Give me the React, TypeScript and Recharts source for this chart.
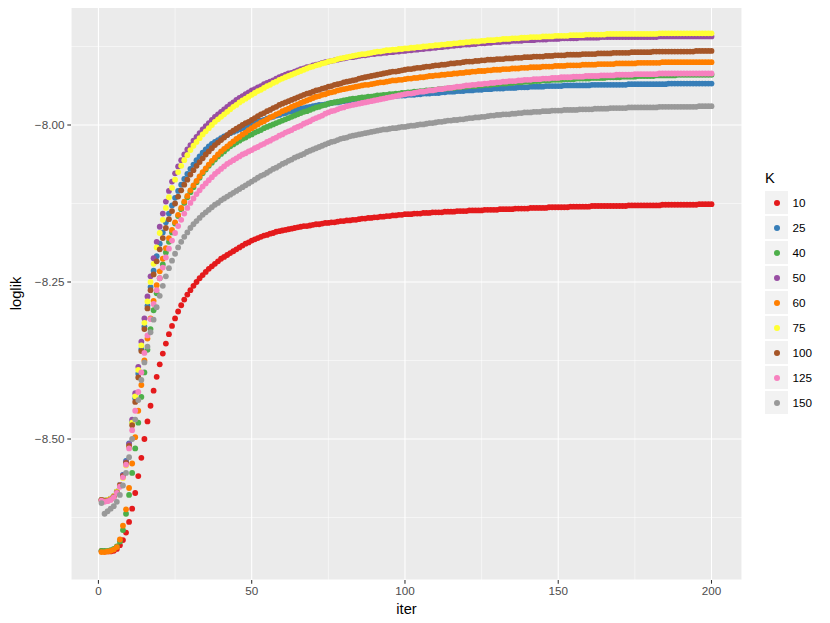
import { CartesianGrid, Label, Scatter, ScatterChart, XAxis, YAxis } from "recharts";

const FONT = '"Liberation Sans", Arial, Helvetica, sans-serif';

const K_LEVELS = ["10", "25", "40", "50", "60", "75", "100", "125", "150"];
const K_COLORS = ["#E41A1C", "#377EB8", "#4DAF4A", "#984EA3", "#FF7F00", "#FFFF33", "#A65628", "#F781BF", "#999999"];

const X_TICKS = [0, 50, 100, 150, 200];
const X_MINOR = [25, 75, 125, 175];
const Y_TICKS = [-8.5, -8.25, -8.0];
const Y_MINOR = [-8.625, -8.375, -8.125, -7.875];

// loglik per iteration (iter 1..200), one list per K
const loglikK10 = [
  -8.678, -8.679, -8.679, -8.679, -8.678, -8.675, -8.669, -8.661, -8.649, -8.632,
  -8.611, -8.586, -8.559, -8.530, -8.500, -8.472, -8.447, -8.423, -8.401, -8.381,
  -8.364, -8.348, -8.333, -8.320, -8.308, -8.297, -8.287, -8.278, -8.270, -8.263,
  -8.256, -8.250, -8.244, -8.239, -8.234, -8.229, -8.225, -8.221, -8.217, -8.213,
  -8.210, -8.207, -8.204, -8.201, -8.198, -8.195, -8.192, -8.189, -8.187, -8.184,
  -8.182, -8.180, -8.178, -8.176, -8.175, -8.173, -8.172, -8.170, -8.169, -8.168,
  -8.167, -8.166, -8.165, -8.164, -8.163, -8.162, -8.161, -8.161, -8.160, -8.159,
  -8.158, -8.158, -8.157, -8.156, -8.156, -8.155, -8.155, -8.154, -8.153, -8.153,
  -8.152, -8.152, -8.151, -8.151, -8.150, -8.149, -8.149, -8.148, -8.148, -8.147,
  -8.147, -8.146, -8.146, -8.145, -8.145, -8.144, -8.144, -8.143, -8.143, -8.142,
  -8.142, -8.142, -8.141, -8.141, -8.141, -8.140, -8.140, -8.140, -8.139, -8.139,
  -8.139, -8.139, -8.138, -8.138, -8.138, -8.138, -8.137, -8.137, -8.137, -8.137,
  -8.136, -8.136, -8.136, -8.136, -8.136, -8.135, -8.135, -8.135, -8.135, -8.135,
  -8.134, -8.134, -8.134, -8.134, -8.134, -8.133, -8.133, -8.133, -8.133, -8.133,
  -8.132, -8.132, -8.132, -8.132, -8.132, -8.132, -8.131, -8.131, -8.131, -8.131,
  -8.131, -8.131, -8.131, -8.130, -8.130, -8.130, -8.130, -8.130, -8.130, -8.130,
  -8.129, -8.129, -8.129, -8.129, -8.129, -8.129, -8.129, -8.129, -8.129, -8.129,
  -8.129, -8.129, -8.128, -8.128, -8.128, -8.128, -8.128, -8.128, -8.128, -8.128,
  -8.128, -8.128, -8.128, -8.127, -8.127, -8.127, -8.127, -8.127, -8.127, -8.127,
  -8.127, -8.127, -8.127, -8.127, -8.127, -8.126, -8.126, -8.126, -8.126, -8.126,
];

const loglikK25 = [
  -8.597, -8.598, -8.597, -8.595, -8.591, -8.584, -8.573, -8.557, -8.535, -8.507,
  -8.473, -8.435, -8.396, -8.357, -8.321, -8.288, -8.258, -8.232, -8.209, -8.189,
  -8.171, -8.155, -8.141, -8.128, -8.116, -8.105, -8.095, -8.086, -8.078, -8.070,
  -8.063, -8.056, -8.050, -8.044, -8.039, -8.034, -8.030, -8.027, -8.024, -8.021,
  -8.018, -8.016, -8.013, -8.011, -8.009, -8.007, -8.005, -8.003, -8.001, -7.999,
  -7.997, -7.995, -7.993, -7.992, -7.990, -7.988, -7.987, -7.985, -7.984, -7.982,
  -7.981, -7.979, -7.978, -7.977, -7.975, -7.974, -7.973, -7.972, -7.971, -7.970,
  -7.969, -7.968, -7.968, -7.967, -7.966, -7.965, -7.964, -7.964, -7.963, -7.962,
  -7.962, -7.961, -7.960, -7.960, -7.959, -7.959, -7.958, -7.958, -7.957, -7.957,
  -7.956, -7.956, -7.955, -7.955, -7.955, -7.954, -7.954, -7.953, -7.953, -7.953,
  -7.952, -7.952, -7.952, -7.951, -7.951, -7.950, -7.950, -7.950, -7.949, -7.949,
  -7.949, -7.948, -7.948, -7.947, -7.947, -7.947, -7.946, -7.946, -7.946, -7.945,
  -7.945, -7.945, -7.944, -7.944, -7.944, -7.943, -7.943, -7.943, -7.942, -7.942,
  -7.942, -7.942, -7.941, -7.941, -7.941, -7.941, -7.940, -7.940, -7.940, -7.940,
  -7.939, -7.939, -7.939, -7.939, -7.939, -7.938, -7.938, -7.938, -7.938, -7.938,
  -7.938, -7.937, -7.937, -7.937, -7.937, -7.937, -7.937, -7.937, -7.937, -7.937,
  -7.936, -7.936, -7.936, -7.936, -7.936, -7.936, -7.936, -7.936, -7.936, -7.936,
  -7.936, -7.936, -7.935, -7.935, -7.935, -7.935, -7.935, -7.935, -7.935, -7.935,
  -7.935, -7.935, -7.935, -7.935, -7.935, -7.934, -7.934, -7.934, -7.934, -7.934,
  -7.934, -7.934, -7.934, -7.934, -7.934, -7.934, -7.934, -7.934, -7.934, -7.934,
];

const loglikK40 = [
  -8.678, -8.678, -8.678, -8.677, -8.675, -8.671, -8.663, -8.645, -8.619, -8.589,
  -8.554, -8.515, -8.474, -8.433, -8.394, -8.358, -8.325, -8.295, -8.268, -8.244,
  -8.222, -8.203, -8.186, -8.171, -8.157, -8.145, -8.134, -8.124, -8.115, -8.107,
  -8.099, -8.091, -8.084, -8.077, -8.071, -8.065, -8.060, -8.055, -8.050, -8.046,
  -8.042, -8.038, -8.034, -8.031, -8.028, -8.025, -8.022, -8.020, -8.017, -8.015,
  -8.012, -8.010, -8.008, -8.005, -8.003, -8.001, -7.999, -7.997, -7.995, -7.993,
  -7.991, -7.989, -7.987, -7.985, -7.983, -7.981, -7.979, -7.978, -7.976, -7.974,
  -7.972, -7.971, -7.969, -7.968, -7.966, -7.965, -7.964, -7.963, -7.962, -7.961,
  -7.960, -7.959, -7.958, -7.958, -7.957, -7.956, -7.956, -7.955, -7.955, -7.954,
  -7.953, -7.953, -7.952, -7.952, -7.951, -7.951, -7.950, -7.950, -7.949, -7.949,
  -7.948, -7.948, -7.947, -7.947, -7.946, -7.946, -7.945, -7.945, -7.944, -7.944,
  -7.943, -7.943, -7.942, -7.942, -7.941, -7.941, -7.940, -7.940, -7.939, -7.939,
  -7.938, -7.938, -7.938, -7.937, -7.937, -7.936, -7.936, -7.936, -7.935, -7.935,
  -7.934, -7.934, -7.934, -7.933, -7.933, -7.932, -7.932, -7.932, -7.931, -7.931,
  -7.931, -7.930, -7.930, -7.930, -7.929, -7.929, -7.929, -7.928, -7.928, -7.928,
  -7.928, -7.927, -7.927, -7.927, -7.927, -7.926, -7.926, -7.926, -7.926, -7.926,
  -7.925, -7.925, -7.925, -7.925, -7.925, -7.924, -7.924, -7.924, -7.924, -7.924,
  -7.923, -7.923, -7.923, -7.923, -7.923, -7.922, -7.922, -7.922, -7.922, -7.922,
  -7.922, -7.921, -7.921, -7.921, -7.921, -7.921, -7.921, -7.921, -7.920, -7.920,
  -7.920, -7.920, -7.920, -7.920, -7.920, -7.920, -7.920, -7.920, -7.920, -7.920,
];

const loglikK50 = [
  -8.597, -8.598, -8.597, -8.595, -8.591, -8.584, -8.573, -8.558, -8.537, -8.508,
  -8.469, -8.427, -8.385, -8.345, -8.308, -8.273, -8.241, -8.212, -8.186, -8.162,
  -8.141, -8.122, -8.105, -8.090, -8.077, -8.066, -8.056, -8.047, -8.039, -8.032,
  -8.025, -8.019, -8.013, -8.007, -8.002, -7.997, -7.992, -7.987, -7.983, -7.979,
  -7.975, -7.971, -7.967, -7.964, -7.960, -7.957, -7.954, -7.951, -7.948, -7.945,
  -7.943, -7.940, -7.938, -7.935, -7.933, -7.931, -7.929, -7.926, -7.924, -7.922,
  -7.920, -7.918, -7.917, -7.915, -7.913, -7.911, -7.910, -7.908, -7.907, -7.905,
  -7.904, -7.903, -7.901, -7.900, -7.899, -7.898, -7.897, -7.896, -7.895, -7.894,
  -7.893, -7.892, -7.892, -7.891, -7.890, -7.889, -7.889, -7.888, -7.887, -7.887,
  -7.886, -7.886, -7.885, -7.885, -7.884, -7.884, -7.883, -7.883, -7.882, -7.882,
  -7.881, -7.881, -7.880, -7.880, -7.879, -7.879, -7.878, -7.878, -7.877, -7.877,
  -7.876, -7.876, -7.875, -7.875, -7.874, -7.874, -7.873, -7.873, -7.872, -7.872,
  -7.872, -7.871, -7.871, -7.870, -7.870, -7.870, -7.869, -7.869, -7.868, -7.868,
  -7.868, -7.867, -7.867, -7.867, -7.866, -7.866, -7.866, -7.866, -7.865, -7.865,
  -7.865, -7.865, -7.864, -7.864, -7.864, -7.864, -7.863, -7.863, -7.863, -7.863,
  -7.862, -7.862, -7.862, -7.862, -7.862, -7.862, -7.861, -7.861, -7.861, -7.861,
  -7.861, -7.861, -7.861, -7.860, -7.860, -7.860, -7.860, -7.860, -7.860, -7.860,
  -7.860, -7.860, -7.860, -7.860, -7.860, -7.860, -7.860, -7.860, -7.860, -7.860,
  -7.860, -7.860, -7.859, -7.859, -7.859, -7.859, -7.859, -7.859, -7.859, -7.859,
  -7.859, -7.859, -7.859, -7.859, -7.859, -7.859, -7.859, -7.859, -7.859, -7.859,
];

const loglikK60 = [
  -8.680, -8.680, -8.679, -8.678, -8.676, -8.672, -8.660, -8.638, -8.612, -8.578,
  -8.539, -8.497, -8.455, -8.414, -8.375, -8.340, -8.308, -8.280, -8.255, -8.233,
  -8.213, -8.196, -8.180, -8.167, -8.155, -8.143, -8.132, -8.122, -8.113, -8.104,
  -8.096, -8.089, -8.082, -8.075, -8.069, -8.063, -8.057, -8.052, -8.047, -8.042,
  -8.038, -8.034, -8.030, -8.026, -8.022, -8.019, -8.015, -8.012, -8.008, -8.005,
  -8.002, -7.999, -7.996, -7.994, -7.991, -7.988, -7.986, -7.983, -7.981, -7.978,
  -7.976, -7.974, -7.971, -7.969, -7.967, -7.965, -7.963, -7.961, -7.959, -7.957,
  -7.955, -7.954, -7.952, -7.951, -7.949, -7.948, -7.947, -7.945, -7.944, -7.943,
  -7.942, -7.941, -7.940, -7.939, -7.938, -7.937, -7.936, -7.936, -7.935, -7.934,
  -7.933, -7.932, -7.932, -7.931, -7.930, -7.929, -7.929, -7.928, -7.928, -7.927,
  -7.926, -7.926, -7.925, -7.925, -7.924, -7.924, -7.923, -7.922, -7.922, -7.921,
  -7.921, -7.920, -7.920, -7.919, -7.919, -7.918, -7.918, -7.917, -7.917, -7.916,
  -7.916, -7.915, -7.915, -7.914, -7.914, -7.914, -7.913, -7.913, -7.912, -7.912,
  -7.912, -7.911, -7.911, -7.911, -7.910, -7.910, -7.910, -7.909, -7.909, -7.909,
  -7.908, -7.908, -7.908, -7.908, -7.907, -7.907, -7.907, -7.907, -7.906, -7.906,
  -7.906, -7.906, -7.905, -7.905, -7.905, -7.905, -7.905, -7.904, -7.904, -7.904,
  -7.904, -7.904, -7.903, -7.903, -7.903, -7.903, -7.903, -7.903, -7.902, -7.902,
  -7.902, -7.902, -7.902, -7.902, -7.902, -7.901, -7.901, -7.901, -7.901, -7.901,
  -7.901, -7.901, -7.901, -7.900, -7.900, -7.900, -7.900, -7.900, -7.900, -7.900,
  -7.900, -7.900, -7.900, -7.900, -7.900, -7.900, -7.900, -7.900, -7.900, -7.900,
];

const loglikK75 = [
  -8.597, -8.598, -8.597, -8.595, -8.591, -8.584, -8.574, -8.562, -8.542, -8.512,
  -8.474, -8.432, -8.390, -8.351, -8.315, -8.281, -8.250, -8.221, -8.195, -8.172,
  -8.151, -8.132, -8.115, -8.100, -8.087, -8.075, -8.065, -8.056, -8.048, -8.040,
  -8.033, -8.027, -8.021, -8.015, -8.010, -8.005, -8.000, -7.995, -7.991, -7.987,
  -7.983, -7.979, -7.975, -7.971, -7.968, -7.964, -7.961, -7.958, -7.955, -7.952,
  -7.949, -7.946, -7.944, -7.941, -7.938, -7.936, -7.933, -7.931, -7.928, -7.926,
  -7.924, -7.922, -7.920, -7.918, -7.916, -7.914, -7.912, -7.910, -7.908, -7.907,
  -7.905, -7.904, -7.902, -7.901, -7.899, -7.898, -7.897, -7.895, -7.894, -7.893,
  -7.892, -7.891, -7.890, -7.889, -7.888, -7.887, -7.887, -7.886, -7.885, -7.884,
  -7.883, -7.883, -7.882, -7.881, -7.881, -7.880, -7.880, -7.879, -7.879, -7.878,
  -7.878, -7.877, -7.877, -7.876, -7.876, -7.875, -7.875, -7.874, -7.874, -7.873,
  -7.873, -7.872, -7.872, -7.871, -7.871, -7.870, -7.870, -7.869, -7.869, -7.868,
  -7.868, -7.867, -7.867, -7.867, -7.866, -7.866, -7.865, -7.865, -7.865, -7.864,
  -7.864, -7.863, -7.863, -7.863, -7.862, -7.862, -7.862, -7.861, -7.861, -7.861,
  -7.860, -7.860, -7.860, -7.860, -7.859, -7.859, -7.859, -7.859, -7.858, -7.858,
  -7.858, -7.858, -7.858, -7.857, -7.857, -7.857, -7.857, -7.857, -7.856, -7.856,
  -7.856, -7.856, -7.856, -7.856, -7.856, -7.855, -7.855, -7.855, -7.855, -7.855,
  -7.855, -7.855, -7.855, -7.855, -7.855, -7.855, -7.855, -7.855, -7.855, -7.855,
  -7.855, -7.855, -7.854, -7.854, -7.854, -7.854, -7.854, -7.854, -7.854, -7.854,
  -7.854, -7.854, -7.854, -7.854, -7.854, -7.854, -7.854, -7.854, -7.854, -7.854,
];

const loglikK100 = [
  -8.597, -8.599, -8.598, -8.596, -8.592, -8.585, -8.574, -8.559, -8.538, -8.511,
  -8.478, -8.441, -8.402, -8.360, -8.325, -8.292, -8.263, -8.238, -8.217, -8.198,
  -8.180, -8.164, -8.150, -8.137, -8.125, -8.114, -8.104, -8.095, -8.087, -8.079,
  -8.072, -8.065, -8.059, -8.053, -8.047, -8.042, -8.037, -8.032, -8.028, -8.024,
  -8.020, -8.016, -8.012, -8.009, -8.006, -8.003, -8.000, -7.997, -7.995, -7.992,
  -7.989, -7.986, -7.983, -7.981, -7.978, -7.976, -7.973, -7.971, -7.968, -7.966,
  -7.964, -7.962, -7.960, -7.958, -7.956, -7.954, -7.952, -7.950, -7.949, -7.947,
  -7.945, -7.944, -7.942, -7.941, -7.939, -7.938, -7.936, -7.935, -7.934, -7.932,
  -7.931, -7.930, -7.929, -7.928, -7.926, -7.925, -7.924, -7.923, -7.922, -7.921,
  -7.920, -7.919, -7.918, -7.917, -7.916, -7.915, -7.915, -7.914, -7.913, -7.912,
  -7.911, -7.911, -7.910, -7.909, -7.909, -7.908, -7.907, -7.907, -7.906, -7.905,
  -7.905, -7.904, -7.904, -7.903, -7.902, -7.902, -7.901, -7.901, -7.900, -7.899,
  -7.899, -7.899, -7.898, -7.898, -7.897, -7.897, -7.896, -7.896, -7.896, -7.895,
  -7.895, -7.895, -7.894, -7.894, -7.894, -7.893, -7.893, -7.893, -7.892, -7.892,
  -7.892, -7.891, -7.891, -7.891, -7.891, -7.890, -7.890, -7.890, -7.889, -7.889,
  -7.889, -7.889, -7.888, -7.888, -7.888, -7.888, -7.888, -7.887, -7.887, -7.887,
  -7.887, -7.887, -7.886, -7.886, -7.886, -7.886, -7.886, -7.885, -7.885, -7.885,
  -7.885, -7.885, -7.885, -7.884, -7.884, -7.884, -7.884, -7.884, -7.884, -7.884,
  -7.883, -7.883, -7.883, -7.883, -7.883, -7.883, -7.883, -7.883, -7.883, -7.883,
  -7.883, -7.883, -7.883, -7.883, -7.882, -7.882, -7.882, -7.882, -7.882, -7.882,
];

const loglikK125 = [
  -8.598, -8.600, -8.599, -8.597, -8.593, -8.586, -8.576, -8.561, -8.541, -8.515,
  -8.486, -8.455, -8.425, -8.394, -8.363, -8.335, -8.309, -8.285, -8.263, -8.244,
  -8.227, -8.211, -8.197, -8.184, -8.172, -8.161, -8.151, -8.141, -8.132, -8.124,
  -8.117, -8.110, -8.104, -8.098, -8.093, -8.088, -8.083, -8.078, -8.074, -8.070,
  -8.066, -8.062, -8.059, -8.056, -8.053, -8.050, -8.047, -8.045, -8.042, -8.040,
  -8.037, -8.035, -8.032, -8.030, -8.027, -8.025, -8.022, -8.020, -8.017, -8.015,
  -8.012, -8.010, -8.008, -8.005, -8.003, -8.001, -7.998, -7.996, -7.994, -7.991,
  -7.989, -7.987, -7.985, -7.982, -7.980, -7.978, -7.977, -7.975, -7.973, -7.972,
  -7.970, -7.969, -7.968, -7.967, -7.966, -7.965, -7.964, -7.963, -7.962, -7.961,
  -7.960, -7.959, -7.958, -7.957, -7.956, -7.955, -7.954, -7.953, -7.952, -7.951,
  -7.950, -7.950, -7.949, -7.948, -7.947, -7.947, -7.946, -7.945, -7.945, -7.944,
  -7.943, -7.943, -7.942, -7.941, -7.941, -7.940, -7.939, -7.939, -7.938, -7.937,
  -7.937, -7.936, -7.936, -7.935, -7.935, -7.934, -7.934, -7.933, -7.933, -7.932,
  -7.932, -7.931, -7.931, -7.930, -7.930, -7.930, -7.929, -7.929, -7.928, -7.928,
  -7.928, -7.927, -7.927, -7.927, -7.926, -7.926, -7.926, -7.925, -7.925, -7.925,
  -7.924, -7.924, -7.924, -7.924, -7.923, -7.923, -7.923, -7.923, -7.922, -7.922,
  -7.922, -7.922, -7.922, -7.921, -7.921, -7.921, -7.921, -7.921, -7.920, -7.920,
  -7.920, -7.920, -7.920, -7.920, -7.919, -7.919, -7.919, -7.919, -7.919, -7.919,
  -7.919, -7.919, -7.918, -7.918, -7.918, -7.918, -7.918, -7.918, -7.918, -7.918,
  -7.918, -7.918, -7.918, -7.918, -7.918, -7.918, -7.918, -7.918, -7.918, -7.918,
];

const loglikK150 = [
  -8.602, -8.619, -8.615, -8.611, -8.607, -8.600, -8.589, -8.574, -8.554, -8.529,
  -8.500, -8.469, -8.438, -8.406, -8.378, -8.353, -8.330, -8.310, -8.290, -8.272,
  -8.256, -8.241, -8.228, -8.216, -8.205, -8.195, -8.186, -8.178, -8.171, -8.164,
  -8.158, -8.153, -8.148, -8.143, -8.139, -8.135, -8.131, -8.127, -8.124, -8.120,
  -8.117, -8.114, -8.111, -8.108, -8.105, -8.102, -8.099, -8.096, -8.093, -8.090,
  -8.087, -8.084, -8.081, -8.079, -8.076, -8.073, -8.070, -8.068, -8.065, -8.062,
  -8.060, -8.057, -8.055, -8.052, -8.050, -8.048, -8.046, -8.043, -8.041, -8.039,
  -8.037, -8.035, -8.033, -8.031, -8.029, -8.027, -8.026, -8.024, -8.022, -8.021,
  -8.020, -8.018, -8.017, -8.016, -8.015, -8.014, -8.013, -8.012, -8.011, -8.010,
  -8.009, -8.008, -8.007, -8.007, -8.006, -8.005, -8.005, -8.004, -8.003, -8.003,
  -8.002, -8.001, -8.001, -8.000, -7.999, -7.999, -7.998, -7.997, -7.997, -7.996,
  -7.995, -7.995, -7.994, -7.993, -7.993, -7.992, -7.992, -7.991, -7.991, -7.990,
  -7.989, -7.989, -7.988, -7.988, -7.987, -7.987, -7.986, -7.985, -7.985, -7.984,
  -7.984, -7.983, -7.983, -7.983, -7.982, -7.982, -7.981, -7.981, -7.980, -7.980,
  -7.980, -7.979, -7.979, -7.979, -7.978, -7.978, -7.978, -7.977, -7.977, -7.977,
  -7.977, -7.976, -7.976, -7.976, -7.976, -7.976, -7.975, -7.975, -7.975, -7.975,
  -7.975, -7.974, -7.974, -7.974, -7.974, -7.974, -7.973, -7.973, -7.973, -7.973,
  -7.973, -7.973, -7.972, -7.972, -7.972, -7.972, -7.972, -7.972, -7.972, -7.972,
  -7.972, -7.972, -7.971, -7.971, -7.971, -7.971, -7.971, -7.971, -7.971, -7.971,
  -7.971, -7.971, -7.971, -7.971, -7.971, -7.970, -7.970, -7.970, -7.970, -7.970,
];

const SERIES = [
  loglikK10, loglikK25, loglikK40, loglikK50, loglikK60,
  loglikK75, loglikK100, loglikK125, loglikK150,
];

const fmtY = (v: number) => v.toFixed(2).replace("-", "\u2212");

const dotShape = (color: string) => (props: any) =>
  <circle cx={props.cx} cy={props.cy} r={2.9} fill={color} />;

const tickStyle = { fill: "#4D4D4D", fontSize: 11.7, fontFamily: FONT };
const tickLineStyle = { stroke: "#333333", strokeWidth: 1.07 };

function Legend() {
  return (
    <div style={{ position: "absolute", left: 765, top: 167, fontFamily: FONT, color: "#000" }}>
      <div style={{ fontSize: 14.7, height: 23, lineHeight: "23px" }}>K</div>
      {K_LEVELS.map((k, i) => (
        <div key={k} style={{ display: "flex", alignItems: "center", height: 25 }}>
          <div
            style={{
              width: 23,
              height: 23,
              background: "#F2F2F2",
              display: "flex",
              alignItems: "center",
              justifyContent: "center",
            }}
          >
            <div style={{ width: 6, height: 6, borderRadius: 3, background: K_COLORS[i] }} />
          </div>
          <span style={{ marginLeft: 4.5, fontSize: 11.7 }}>{k}</span>
        </div>
      ))}
    </div>
  );
}

export default function App() {
  return (
    <div style={{ position: "relative", width: 830, height: 623, margin: -8, background: "#fff" }}>
      <ScatterChart width={830} height={623} margin={{ top: 7, right: 88, bottom: 0, left: 0 }}>
        <CartesianGrid fill="#EBEBEB" stroke="#FFFFFF" strokeWidth={1.07} />
        {/* minor grid */}
        <CartesianGrid
          stroke="#FFFFFF"
          strokeWidth={0.53}
          horizontalValues={Y_MINOR}
          verticalValues={X_MINOR}
        />
        <XAxis
          type="number"
          dataKey="iter"
          domain={[-8.95, 209.95]}
          ticks={X_TICKS}
          allowDataOverflow
          height={43}
          axisLine={false}
          tickSize={3.7}
          tickMargin={2.9}
          tick={tickStyle}
          tickLine={tickLineStyle}
        >
          <Label
            content={(p: any) => (
              <text
                x={p.viewBox.x + p.viewBox.width / 2}
                y={614}
                textAnchor="middle"
                fontSize={14.7}
                fontFamily={FONT}
                fill="#000"
              >
                iter
              </text>
            )}
          />
        </XAxis>
        <YAxis
          type="number"
          dataKey="v"
          domain={[-8.7245, -7.8121]}
          ticks={Y_TICKS}
          allowDataOverflow
          width={71}
          axisLine={false}
          tickSize={3.7}
          tickMargin={2.9}
          tick={tickStyle}
          tickLine={tickLineStyle}
          tickFormatter={fmtY}
        >
          <Label
            content={(p: any) => {
              const cy = p.viewBox.y + p.viewBox.height / 2;
              return (
                <text
                  x={16}
                  y={cy}
                  transform={`rotate(-90 16 ${cy})`}
                  textAnchor="middle"
                  dominantBaseline="central"
                  fontSize={14.7}
                  fontFamily={FONT}
                  fill="#000"
                >
                  loglik
                </text>
              );
            }}
          />
        </YAxis>
        {SERIES.map((vals, s) => (
          <Scatter
            key={K_LEVELS[s]}
            name={K_LEVELS[s]}
            data={vals.map((v, i) => ({ iter: i + 1, v }))}
            fill={K_COLORS[s]}
            shape={dotShape(K_COLORS[s])}
            isAnimationActive={false}
          />
        ))}
      </ScatterChart>
      <Legend />
    </div>
  );
}
